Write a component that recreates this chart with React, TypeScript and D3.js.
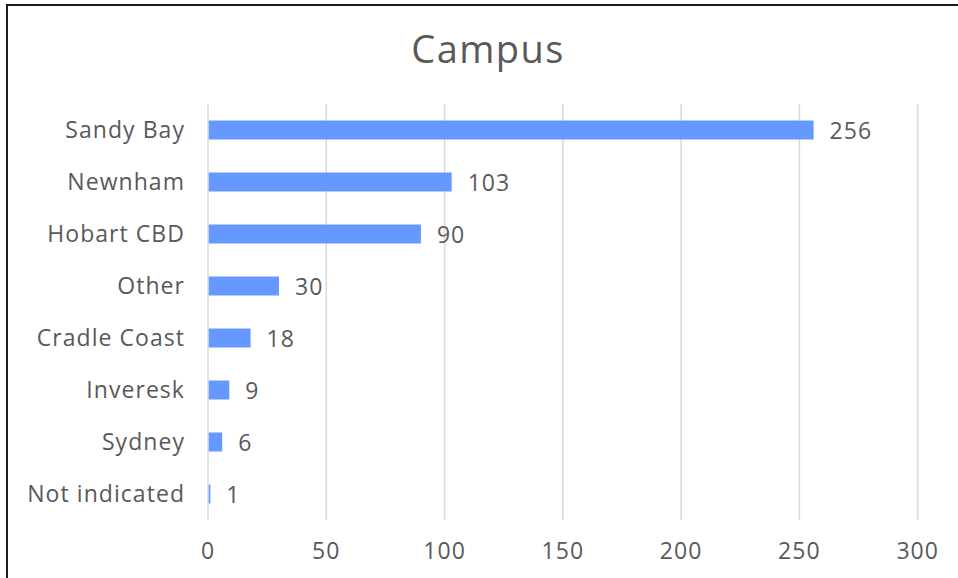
import React from "react";
import * as d3 from "d3";

const categories: string[] = [
  "Sandy Bay",
  "Newnham",
  "Hobart CBD",
  "Other",
  "Cradle Coast",
  "Inveresk",
  "Sydney",
  "Not indicated",
];
const values: number[] = [256, 103, 90, 30, 18, 9, 6, 1];
const xTicks: number[] = [0, 50, 100, 150, 200, 250, 300];
const title = "Campus";

const W = 958;
const H = 578;
const FONT = "'Open Sans', sans-serif";
const TEXT = "#595959";
const FS = 23;
const LS = 1.05;

export default function App() {
  const x = d3.scaleLinear().domain([0, 300]).range([208, 917.7]);
  const y = d3
    .scaleBand<string>()
    .domain(categories)
    .range([104, 520])
    .paddingInner(0.635)
    .paddingOuter(0.3175);
  return (
    <svg
      width={W}
      height={H}
      style={{ position: "absolute", left: 0, top: 0, background: "#fff" }}
      fontFamily={FONT}
    >
      <rect x={0} y={0} width={W} height={H} fill="#fff" />
      <rect x={7} y={5} width={1200} height={1200} fill="none" stroke="#1c1c1c" strokeWidth={2} />
      <text x={488} y={63} textAnchor="middle" fontSize={38} letterSpacing={1.4} fill={TEXT}>
        {title}
      </text>
      {xTicks.map((t) => (
        <g key={t}>
          <line x1={x(t)} x2={x(t)} y1={104} y2={520} stroke="#d9d9d9" strokeWidth={1.5} />
          <text x={x(t)} y={559} textAnchor="middle" fontSize={FS} letterSpacing={LS} fill={TEXT}>
            {t}
          </text>
        </g>
      ))}
      {categories.map((c, i) => {
        const cy = (y(c) as number) + y.bandwidth() / 2;
        return (
          <g key={c}>
            <rect
              x={x(0) + 0.75}
              y={y(c) as number}
              width={Math.max(0, x(values[i]) - x(0) - 0.75)}
              height={y.bandwidth()}
              fill="#6699ff"
            />
            <text x={185} y={cy} dy="0.36em" textAnchor="end" fontSize={FS} letterSpacing={LS} fill={TEXT}>
              {c}
            </text>
            <text x={x(values[i]) + 16} y={cy} dy="0.38em" textAnchor="start" fontSize={FS} letterSpacing={LS} fill={TEXT}>
              {values[i]}
            </text>
          </g>
        );
      })}
    </svg>
  );
}
